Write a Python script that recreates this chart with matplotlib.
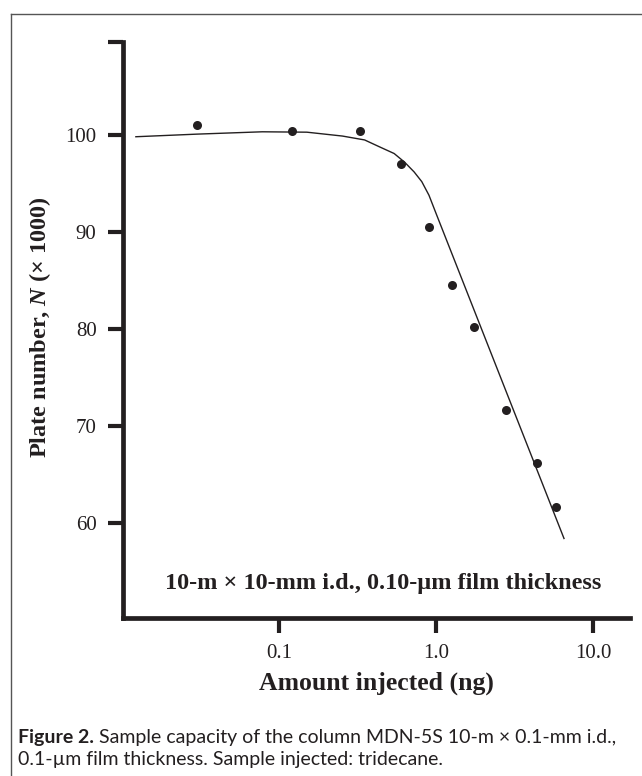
import matplotlib.pyplot as plt
import matplotlib as mtpl
from matplotlib.lines import Line2D
import numpy as np

mtpl.rcParams['font.family'] = ['Liberation Serif', 'DejaVu Serif']
mtpl.rcParams['mathtext.fontset'] = 'custom'
mtpl.rcParams['mathtext.rm'] = 'Liberation Serif'
mtpl.rcParams['mathtext.bf'] = 'Liberation Serif:bold'
mtpl.rcParams['mathtext.bfit'] = 'Liberation Serif:italic:bold'
ink = '#231f20'

# measured points: amount injected (ng) vs plate number (x1000)
amount = [0.030, 0.1205, 0.325, 0.596, 0.902, 1.27, 1.746, 2.80, 4.38, 5.84]
plates = [101.0, 100.44, 100.44, 96.98, 90.48, 84.54, 80.18, 71.65, 66.22, 61.68]

# fitted curve as drawn
fit_x = [0.0122, 0.03, 0.078, 0.15, 0.253, 0.35, 0.434, 0.54, 0.63, 0.724, 0.81, 0.90, 1.0, 6.53]
fit_y = [99.83, 100.1, 100.34, 100.3, 99.9, 99.5, 98.8, 98.1, 97.2, 96.2, 95.2, 93.8, 91.9, 58.4]

x_ticks = [0.1, 1.0, 10.0]
x_labels = ['0.1', '1.0', '10.0']
y_ticks = [60, 70, 80, 90, 100]

W, H = 642, 776
fig = plt.figure(figsize=(W / 100, H / 100), dpi=100)
ax = fig.add_axes([123 / W, 1 - 618 / H, (630 - 123) / W, (618 - 42) / H])

ax.set_xscale('log')
ax.set_xlim(0.0101, 17.2)
ytop = 109.6
ax.set_ylim(50.2, ytop)

ax.plot(fit_x, fit_y, color=ink, lw=1.0)
ax.plot(amount, plates, 'o', color=ink, ms=6.5, mec='none')

for s in ['top', 'right']:
    ax.spines[s].set_visible(False)
for s in ['left', 'bottom']:
    ax.spines[s].set_linewidth(3.4)
    ax.spines[s].set_color(ink)
    ax.spines[s].set_capstyle('projecting')

ax.set_xticks(x_ticks)
ax.set_xticklabels(x_labels)
ax.xaxis.set_minor_locator(mtpl.ticker.NullLocator())
ax.set_yticks(y_ticks + [ytop])
ax.set_yticklabels([str(v) for v in y_ticks] + [''])
ax.tick_params(axis='both', direction='out', length=11, width=3.0, color=ink,
               labelsize=15, labelcolor=ink, pad=8)

fig.text(40 / W, 1 - 327 / H, 'Plate number, $\\mathbfit{N}$ (× 1000)', rotation=90,
         ha='center', va='center', fontsize=17.5, fontweight='bold', color=ink)
fig.text(376 / W, 1 - 683 / H, 'Amount injected (ng)', ha='center', va='center',
         fontsize=18.5, fontweight='bold', color=ink)
fig.text(383 / W, 1 - 583 / H, '10-m × 10-mm i.d., 0.10-µm film thickness',
         ha='center', va='center', fontsize=17.5, fontweight='bold', color=ink)

cap_font = ['Lato', 'DejaVu Sans']
t1 = fig.text(18 / W, 1 - 737 / H, 'Figure 2.', ha='left', va='center', fontsize=14,
              fontweight='bold', family=cap_font, color=ink)
fig.canvas.draw()
bb = t1.get_window_extent()
fig.text((bb.x1 + 5) / W, 1 - 737 / H, 'Sample capacity of the column MDN-5S 10-m × 0.1-mm i.d.,',
         ha='left', va='center', fontsize=14, family=cap_font, color=ink)
fig.text(18 / W, 1 - 760 / H, '0.1-µm film thickness. Sample injected: tridecane.',
         ha='left', va='center', fontsize=14, family=cap_font, color=ink)

# frame around the figure
fig.add_artist(Line2D([11 / W, 11 / W], [0, 1 - 14 / H], color='#555555', lw=1.0))
fig.add_artist(Line2D([11 / W, 1], [1 - 14 / H, 1 - 14 / H], color='#555555', lw=1.0))

fig.savefig('out.png', dpi=100)
